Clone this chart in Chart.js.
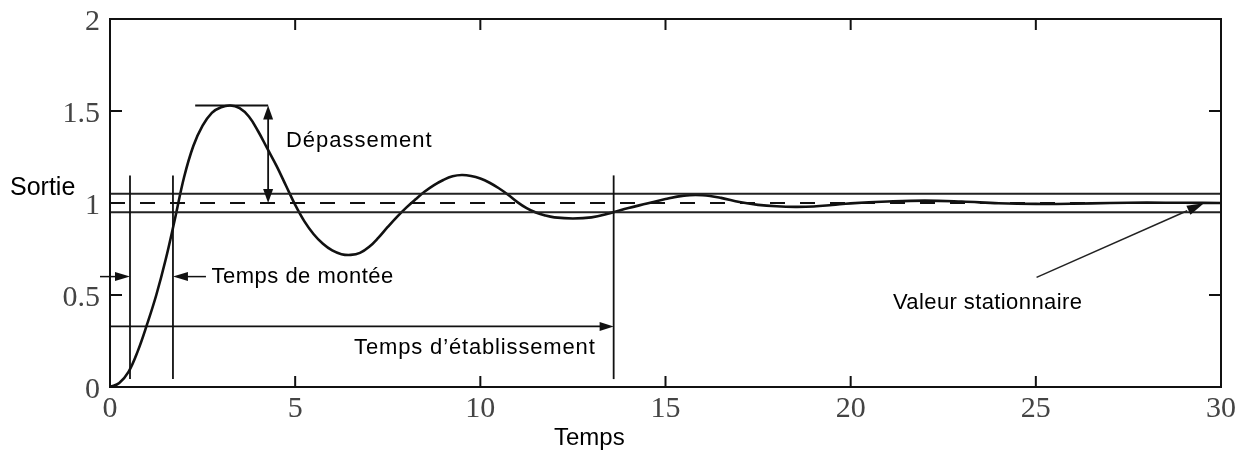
<!DOCTYPE html>
<html>
<head>
<meta charset="utf-8">
<script src="https://cdn.jsdelivr.net/npm/chart.js@4.4.0/dist/chart.umd.min.js"></script>
<style>
  html, body { margin: 0; padding: 0; background: #fff; }
  #c { display: block; }
</style>
</head>
<body>
<canvas id="c" width="1251" height="453"></canvas>
<script>
// ---- data ----
const times = [0,0.25,0.5,0.75,1,1.25,1.5,1.75,2,2.25,2.5,2.75,3,3.25,3.5,3.75,4,4.25,4.5,4.75,5,5.25,5.5,5.75,6,6.25,6.5,6.75,7,7.25,7.5,7.75,8,8.25,8.5,8.75,9,9.25,9.5,9.75,10,10.25,10.5,10.75,11,11.25,11.5,11.75,12,12.5,13,13.5,14,14.5,15,15.5,16,16.5,17,17.5,18,18.5,19,19.5,20,21,22,23,24,25,26,27,28,29,30];
const outputValues = [0,0.022,0.082,0.195,0.34,0.5,0.69,0.91,1.14,1.31,1.42,1.49,1.52,1.53,1.515,1.47,1.39,1.295,1.2,1.095,0.99,0.9,0.83,0.778,0.742,0.722,0.718,0.729,0.762,0.812,0.87,0.925,0.975,1.02,1.062,1.097,1.125,1.145,1.152,1.147,1.133,1.11,1.08,1.045,1.005,0.972,0.948,0.932,0.922,0.916,0.922,0.945,0.973,0.997,1.022,1.04,1.042,1.028,1.005,0.99,0.982,0.979,0.981,0.989,0.998,1.008,1.013,1.008,0.999,0.995,0.996,1.0,1.002,1.001,1.0];
const xTicks = [0,5,10,15,20,25,30];
const xTickLabels = ['0','5','10','15','20','25','30'];
const yTicks = [0,0.5,1,1.5,2];
const yTickLabels = ['0','0.5','1','1.5','2'];

const steadyValue = 1;
const tolerance = 0.05;
const riseStartTime = 0.54;
const riseEndTime = 1.70;
const settlingTime = 13.6;
const markerBottom = 0.043;
const markerTop = 1.15;
const peakValue = 1.53;
const peakLineStart = 2.3;
const overshootArrowTime = 4.27;
const riseArrowLevel = 0.6;
const settlingArrowLevel = 0.329;

const xLabel = 'Temps';
const yLabel = 'Sortie';
const labels = {
  overshoot: 'Dépassement',
  rise: 'Temps de montée',
  settling: 'Temps d\u2019établissement',
  steady: 'Valeur stationnaire'
};

// ---- build datasets ----
const curve = times.map((t, i) => ({ x: t, y: outputValues[i] }));
const hLine = v => [{ x: xTicks[0], y: v }, { x: xTicks[xTicks.length - 1], y: v }];

const annot = {
  id: 'annot',
  afterDatasetsDraw(chart) {
    const ctx = chart.ctx;
    const xs = chart.scales.x, ys = chart.scales.y;
    const X = v => xs.getPixelForValue(v);
    const Y = v => ys.getPixelForValue(v);
    const ca = chart.chartArea;

    function line(x1, y1, x2, y2, w, col) {
      ctx.beginPath();
      ctx.moveTo(x1, y1); ctx.lineTo(x2, y2);
      ctx.lineWidth = w || 2; ctx.strokeStyle = col || '#111';
      ctx.stroke();
    }
    function head(tx, ty, fx, fy, len, hw) {
      const a = Math.atan2(ty - fy, tx - fx);
      const bx = tx - len * Math.cos(a), by = ty - len * Math.sin(a);
      const nx = -Math.sin(a) * hw, ny = Math.cos(a) * hw;
      ctx.beginPath();
      ctx.moveTo(tx, ty);
      ctx.lineTo(bx + nx, by + ny);
      ctx.lineTo(bx - nx, by - ny);
      ctx.closePath();
      ctx.fillStyle = '#111';
      ctx.fill();
    }
    function text(s, x, y, size, spacing) {
      ctx.font = size + 'px "Liberation Sans", Arial, sans-serif';
      ctx.fillStyle = '#000';
      ctx.textAlign = 'left';
      ctx.textBaseline = 'alphabetic';
      try { ctx.letterSpacing = spacing || '0px'; } catch (e) {}
      ctx.fillText(s, x, y);
      try { ctx.letterSpacing = '0px'; } catch (e) {}
    }

    ctx.save();
    // frame
    ctx.lineWidth = 2; ctx.strokeStyle = '#111';
    ctx.strokeRect(ca.left, ca.top, ca.right - ca.left, ca.bottom - ca.top);
    // inward ticks
    xTicks.slice(1, -1).forEach(t => {
      line(X(t), ca.bottom, X(t), ca.bottom - 11, 2);
      line(X(t), ca.top, X(t), ca.top + 11, 2);
    });
    yTicks.slice(1, -1).forEach(v => {
      line(ca.left, Y(v), ca.left + 12, Y(v), 2);
      line(ca.right, Y(v), ca.right - 12, Y(v), 2);
    });

    // vertical markers
    [riseStartTime, riseEndTime, settlingTime].forEach(t => {
      line(X(t), Y(markerBottom), X(t), Y(markerTop), 1.8);
    });

    // rise time arrows
    const ry = Y(riseArrowLevel);
    line(ca.left - 10, ry, X(riseStartTime) - 10, ry, 1.5);
    head(X(riseStartTime), ry, ca.left - 10, ry, 15, 4.5);
    line(X(riseEndTime) + 10, ry, X(riseEndTime) + 33, ry, 1.5);
    head(X(riseEndTime), ry, X(riseEndTime) + 33, ry, 15, 4.5);
    text(labels.rise, X(2.74), Y(0.564), 22, '0.5px');

    // overshoot
    const py = Y(peakValue);
    line(X(peakLineStart), py, X(overshootArrowTime), py, 2);
    line(X(overshootArrowTime), py + 8, X(overshootArrowTime), Y(steadyValue) - 8, 1.8);
    head(X(overshootArrowTime), py, X(overshootArrowTime), Y(steadyValue), 14, 5);
    head(X(overshootArrowTime), Y(steadyValue), X(overshootArrowTime), py, 14, 5);
    text(labels.overshoot, X(4.75), Y(1.303), 22, '1px');

    // settling time arrow
    const sy = Y(settlingArrowLevel);
    line(ca.left, sy, X(settlingTime) - 10, sy, 1.8);
    head(X(settlingTime), sy, ca.left, sy, 14, 4.5);
    text(labels.settling, X(6.59), Y(0.179), 22, '0.85px');

    // steady state arrow
    const ax1 = X(25.02), ay1 = Y(0.596), ax2 = X(29.54), ay2 = Y(0.998);
    line(ax1, ay1, ax1 + (ax2 - ax1) * 0.9, ay1 + (ay2 - ay1) * 0.9, 1.5, '#222');
    head(ax2, ay2, ax1, ay1, 17, 5);
    text(labels.steady, X(21.14), Y(0.422), 22, '0.4px');

    // axis titles
    text(yLabel, 10, 195, 25, '0px');
    text(xLabel, 554, 445, 24, '0px');
    ctx.restore();
  }
};

new Chart(document.getElementById('c'), {
  type: 'line',
  data: {
    datasets: [
      { data: hLine(steadyValue + tolerance), borderColor: '#222', borderWidth: 2, pointRadius: 0 },
      { data: hLine(steadyValue - tolerance), borderColor: '#222', borderWidth: 2, pointRadius: 0 },
      { data: hLine(steadyValue), borderColor: '#111', borderWidth: 2, borderDash: [15, 15], pointRadius: 0 },
      { data: curve, borderColor: '#111', borderWidth: 2.6, pointRadius: 0, tension: 0.4 }
    ]
  },
  options: {
    responsive: false,
    devicePixelRatio: 1,
    animation: false,
    layout: { padding: { top: 19, right: 30, left: 0, bottom: 0 } },
    plugins: { legend: { display: false }, tooltip: { enabled: false } },
    scales: {
      x: {
        type: 'linear', min: 0, max: 30,
        afterBuildTicks: s => { s.ticks = xTicks.map(v => ({ value: v })); },
        afterFit: s => { s.height = 66; s.paddingLeft = 0; s.paddingRight = 0; },
        grid: { display: false, drawTicks: false },
        border: { display: false },
        ticks: {
          callback: (v, i) => xTickLabels[i],
          font: { family: '"Liberation Serif", "Times New Roman", serif', size: 30 },
          color: '#444', padding: 4, maxRotation: 0, autoSkip: false
        }
      },
      y: {
        type: 'linear', min: 0, max: 2,
        afterBuildTicks: s => { s.ticks = yTicks.map(v => ({ value: v })); },
        afterFit: s => { s.width = 110; s.paddingTop = 0; s.paddingBottom = 0; },
        grid: { display: false, drawTicks: false },
        border: { display: false },
        ticks: {
          callback: (v, i) => yTickLabels[i],
          font: { family: '"Liberation Serif", "Times New Roman", serif', size: 30 },
          color: '#444', padding: 10, labelOffset: 3, autoSkip: false
        }
      }
    }
  },
  plugins: [annot]
});
</script>
</body>
</html>
